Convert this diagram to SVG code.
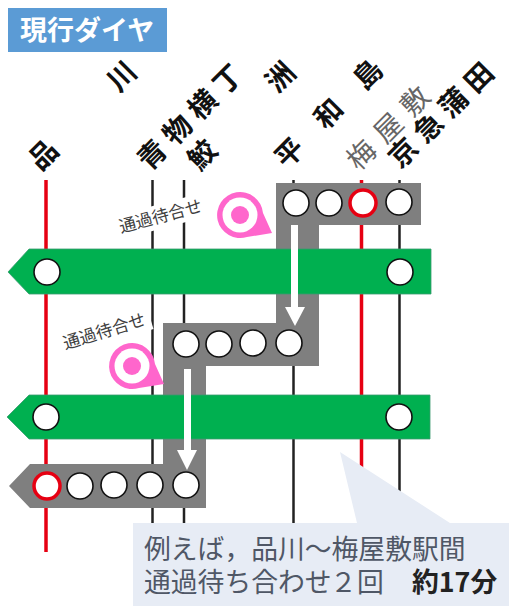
<svg xmlns="http://www.w3.org/2000/svg" width="509" height="606" viewBox="0 0 509 606">
<style>
text{font-family:"Noto Sans CJK JP","Noto Sans CJK SC",sans-serif}
.st{font-size:28px;font-weight:700;fill:#111}
.stg{font-size:28px;font-weight:400;fill:#666}
.lr{stroke:#e60012;stroke-width:3.5;fill:none}
.lk{stroke:#222;stroke-width:2.5;fill:none}
.g{fill:#7f7f7f}
.gr{fill:#00b050;stroke:#3a9a70;stroke-width:.8}
.c{fill:#fff;stroke:#111;stroke-width:1.6}
.cr{fill:#fff;stroke:#e60012;stroke-width:3.5}
.ar{fill:#fff}
.pin{fill:#ff66cc}
.hole{fill:#fff}
.dot{fill:#ff66cc}
.wt{font-size:17px;fill:#404040}
.co{font-size:26.8px;fill:#4f5766}
</style>
<rect width="509" height="606" fill="#fff"/>
<g id="title">
<rect x="8" y="8" width="159" height="44" fill="#5b9bd5"/>
<text x="20" y="39.500" font-size="27" font-weight="700" fill="#fff">現行ダイヤ</text>
</g>
<g id="stations">
<text class="st" transform="translate(40.600 171.800) rotate(-45)" dx="0 83">品川</text>
<text class="st" transform="translate(149.600 171.800) rotate(-45)" letter-spacing="7.500">青物横丁</text>
<text class="st" transform="translate(199.600 171.800) rotate(-45)" dx="0 82">鮫洲</text>
<text class="st" transform="translate(286.600 169.800) rotate(-45)" letter-spacing="27.500">平和島</text>
<text class="stg" transform="translate(358.600 171.800) rotate(-45)" letter-spacing="10">梅屋敷</text>
<text class="st" transform="translate(400.600 169.800) rotate(-45)" letter-spacing="7.500">京急蒲田</text>
</g>
<g id="connectors">
<path class="lr" d="M46 180V552"/>
<path class="lk" d="M152.500 180V523"/>
<path class="lk" d="M184 180V523"/>
<path class="lk" d="M293.500 180V523"/>
<path class="lr" d="M361.500 180V470"/>
<path class="lk" d="M399.500 180V492"/>
</g>
<g id="wait-label-1">
<rect x="-46" y="-12" width="92" height="24" fill="#fff" transform="translate(162 216) rotate(-15)"/>
<text class="wt" text-anchor="middle" transform="translate(162 222) rotate(-15)">通過待合せ</text>
</g>
<g id="wait-label-2">
<rect x="-46" y="-12" width="92" height="24" fill="#fff" transform="translate(106 331) rotate(-17)"/>
<text class="wt" text-anchor="middle" transform="translate(106 337) rotate(-17)">通過待合せ</text>
</g>
<g id="slow-train">
<path class="g" d="M276 183H421V225H319V366H206V508H30L9 486L30 464H163V323H276Z"/>
</g>
<g id="express-1">
<path class="gr" d="M8 272L29 249H431V294H29Z"/>
</g>
<g id="express-2">
<path class="gr" d="M7 417L29 395H430V439H29Z"/>
</g>
<g id="arrow-1"><path class="ar" d="M291 225H298V307H305L295 326L285 307H291Z"/></g>
<g id="arrow-2"><path class="ar" d="M184 369H191V450H197L187 470L177 450H184Z"/></g>
<g id="pin-1">
<path class="pin" d="M272 233L247 237A23 23 0 1 1 263 213Z"/>
<circle class="hole" cx="240" cy="215" r="17.500"/>
<circle class="dot" cx="240" cy="215" r="9"/>
</g>
<g id="pin-2">
<path class="pin" d="M164 384L139 388A23 23 0 1 1 155 364Z"/>
<circle class="hole" cx="132" cy="366" r="17.500"/>
<circle class="dot" cx="132" cy="366" r="9"/>
</g>
<g id="stops-row-1">
<circle class="c" cx="296" cy="203" r="13"/><circle class="c" cx="329" cy="203" r="13"/><circle class="cr" cx="363" cy="203" r="13"/><circle class="c" cx="399" cy="202" r="13"/>
</g>
<g id="stops-express-1">
<circle class="c" cx="47" cy="272" r="13"/><circle class="c" cx="400" cy="272" r="13"/>
</g>
<g id="stops-row-2">
<circle class="c" cx="186" cy="344" r="13"/><circle class="c" cx="219" cy="344" r="13"/><circle class="c" cx="253" cy="343" r="13"/><circle class="c" cx="289" cy="343" r="13"/>
</g>
<g id="stops-express-2">
<circle class="c" cx="46" cy="417" r="13"/><circle class="c" cx="399" cy="417" r="13"/>
</g>
<g id="stops-row-3">
<circle class="cr" cx="47" cy="486" r="13"/><circle class="c" cx="80" cy="486" r="13"/><circle class="c" cx="114" cy="485" r="13"/><circle class="c" cx="150" cy="485" r="13"/><circle class="c" cx="186" cy="485" r="13"/>
</g>
<g id="callout">
<path fill="#e7ecf5" d="M133 523H357L340 452L450 523H509V606H133Z"/>
<text class="co" x="144" y="559">例えば，品川～梅屋敷駅間</text>
<text class="co" x="144" y="592">通過待ち合わせ<tspan x="330">２</tspan><tspan x="357">回</tspan><tspan x="412" font-weight="700" fill="#222">約17分</tspan></text>
</g>
</svg>
